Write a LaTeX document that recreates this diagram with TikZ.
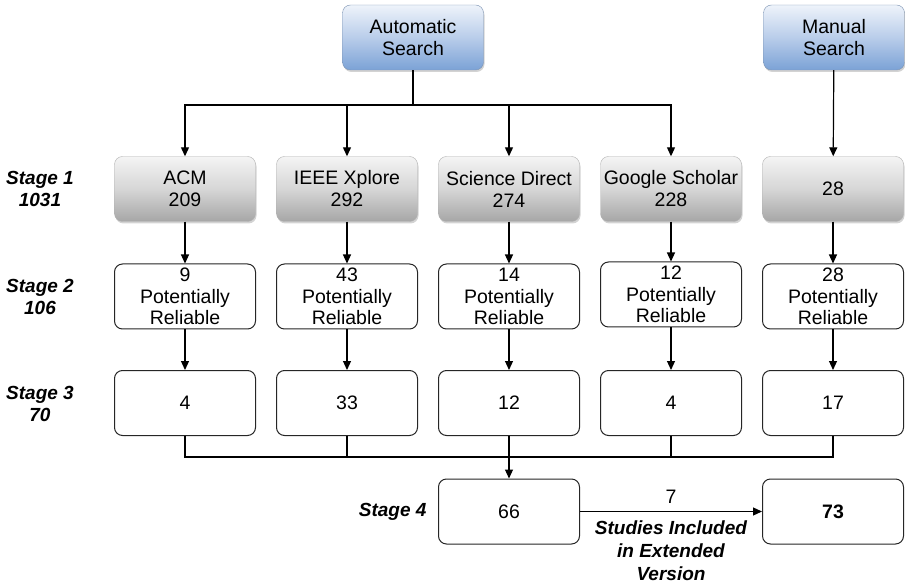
\documentclass[tikz,border=0pt]{standalone}
\usepackage{fontspec}
\setmainfont{Liberation Sans}
\usetikzlibrary{arrows.meta,shadows}

\definecolor{bluAlto}{HTML}{EEF3FA}
\definecolor{bluMedio}{HTML}{B9CDEA}
\definecolor{bluBasso}{HTML}{7BA2D6}
\definecolor{grigioAlto}{HTML}{F4F4F4}
\definecolor{grigioMedio}{HTML}{D6D6D6}
\definecolor{grigioBasso}{HTML}{A6A6A6}

\tikzset{
	base/.style={rounded corners=8pt, minimum width=141pt, minimum height=65pt,
		align=center, inner sep=2pt, font=\fontsize{19.5}{22}\selectfont},
	cerca/.style={base, draw=bluBasso!60!gray, top color=bluAlto, bottom color=bluBasso,
		middle color=bluMedio, drop shadow={shadow xshift=1pt, shadow yshift=-2pt, opacity=0.35}},
	fonte/.style={base, draw=gray!60, top color=grigioAlto, bottom color=grigioBasso, middle color=grigioMedio,
		drop shadow={shadow xshift=1pt, shadow yshift=-2pt, opacity=0.35}},
	esito/.style={base, draw=black!85, line width=1pt, fill=white, font=\fontsize{19.5}{21.5}\selectfont},
	fase/.style={align=center, font=\fontsize{19}{22}\selectfont\bfseries\itshape},
	flow/.style={-{Triangle[length=9pt,width=8pt]}, line width=1.2pt},
	linea/.style={line width=1.2pt}
}

\begin{document}
\begin{tikzpicture}[x=1pt, y=-1pt]
		\useasboundingbox (0,0) rectangle (905,585);
		% ricerca
		\node[cerca] (auto) at (413,37.5) {Automatic\\Search};
		\node[cerca] (man) at (834,37.5) {Manual\\Search};
		% fase 1
		\node[fonte] (acm) at (185,189) {ACM\\209};
		\node[fonte] (ieee) at (347,189) {IEEE Xplore\\292};
		\node[fonte] (sd) at (509,189) {Science Direct\\274};
		\node[fonte] (gs) at (671,189) {Google Scholar\\228};
		\node[fonte] (mr) at (833,189) {28};
		% fase 2
		\node[esito] (acmB) at (185,296.5) {9\\Potentially\\Reliable};
		\node[esito] (ieeeB) at (347,296.5) {43\\Potentially\\Reliable};
		\node[esito] (sdB) at (509,296.5) {14\\Potentially\\Reliable};
		\node[esito] (gsB) at (671,294.5) {12\\Potentially\\Reliable};
		\node[esito] (mrB) at (833,296.5) {28\\Potentially\\Reliable};
		% fase 3
		\node[esito] (acmC) at (185,403) {4};
		\node[esito] (ieeeC) at (347,403) {33};
		\node[esito] (sdC) at (509,403) {12};
		\node[esito] (gsC) at (671,403) {4};
		\node[esito] (mrC) at (833,403) {17};
		% fase 4
		\node[esito] (tot) at (509,511.5) {66};
		\node[esito] (fin) at (833,511.5) {\textbf{73}};
		% etichette delle fasi
		\node[fase] (f1) at (40,189) {Stage 1\\1031};
		\node[fase] (f2) at (40,297) {Stage 2\\106};
		\node[fase] (f3) at (40,404) {Stage 3\\70};
		\node[fase, anchor=east] (f4) at (430,511.5) {Stage 4};
		% collegamenti
		\coordinate (busA) at (413,105);
		\coordinate (busB) at (509,457);
		\foreach \n in {acm,ieee,sd,gs}
			\draw[flow] (auto.south) |- (\n.north |- busA) -- (\n.north);
		\draw[flow] (man) -- (mr);
		\foreach \n in {acm,ieee,sd,gs,mr} {
			\draw[flow] (\n) -- (\n B);
			\draw[flow] (\n B) -- (\n C);
			\draw[linea] (\n C.south) |- (busB);
		}
		\draw[flow] (busB) -- (tot.north);
		\draw[flow] (tot) -- node[above=4pt, font=\fontsize{19.5}{22}\selectfont] (sette) {7}
			node[below=5pt, fase, font=\fontsize{19}{23}\selectfont\bfseries\itshape] (studi) {Studies Included\\in Extended\\Version} (fin);
	\end{tikzpicture}
\end{document}
